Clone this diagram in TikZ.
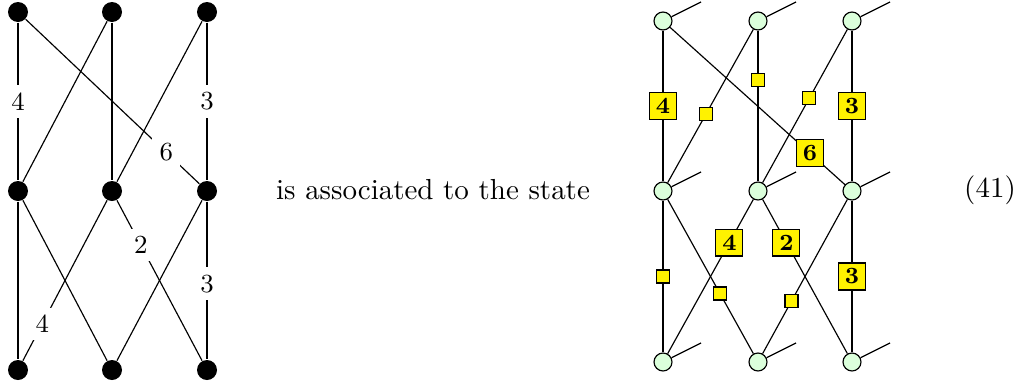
\documentclass[tikz,border=0pt]{standalone}
\begin{document}
\begin{tikzpicture}[x=0.345pt, y=-0.345pt,
		dot/.style = {circle, fill=black, inner sep=0pt, minimum size=6.9pt},
		site/.style = {circle, draw, fill=green!14, inner sep=0pt, minimum size=6.2pt},
		lbl/.style = {fill=white, font=\small, inner sep=2.5pt},
		tag/.style = {draw, fill=yellow, font=\footnotesize\bfseries, inner sep=0pt, minimum size=9.3pt},
		smalltag/.style = {draw, fill=yellow, inner sep=0pt, minimum size=4.5pt}
	]
	\useasboundingbox (0,0) rectangle (1024,385);
	% left graph
	\foreach \c/\x in {1/18, 2/112, 3/207}{
		\node[dot] (lt\c) at (\x,12) {};
		\node[dot] (lm\c) at (\x,191) {};
		\node[dot] (lb\c) at (\x,370) {};
	}
	\draw (lt1) -- node[lbl] {4} (lm1);
	\draw (lt1) -- node[lbl, pos=.81] {6} (lm3);
	\draw (lt2) -- (lm1);
	\draw (lt2) -- (lm2);
	\draw (lt3) -- (lm2);
	\draw (lt3) -- node[lbl] {3} (lm3);
	\draw (lm1) -- (lb1);
	\draw (lm1) -- (lb2);
	\draw (lm2) -- node[lbl, pos=.77] {4} (lb1);
	\draw (lm2) -- node[lbl, pos=.28] {2} (lb3);
	\draw (lm3) -- (lb2);
	\draw (lm3) -- node[lbl, pos=.52] {3} (lb3);
	% text
	\node (txt) at (433,190) {is associated to the state};
	\node (eqno) at (990,190) {(41)};
	% right graph
	\foreach \c/\x in {1/663, 2/758, 3/852}{
		\foreach \r/\y in {t/21, m/191, b/362}{
			\node[site] (r\r\c) at (\x,\y) {};
			\path (r\r\c.center) ++(38,-19) coordinate (r\r\c e);
			\draw (r\r\c) -- (r\r\c e);
		}
	}
	\draw (rt1) -- node[tag] {4} (rm1);
	\draw (rt1) -- node[tag, pos=.8] {6} (rm3);
	\draw (rt2) -- node[smalltag, pos=.55] {} (rm1);
	\draw (rt2) -- node[smalltag, pos=.33] {} (rm2);
	\draw (rt3) -- node[smalltag, pos=.45] {} (rm2);
	\draw (rt3) -- node[tag] {3} (rm3);
	\draw (rm1) -- node[smalltag] {} (rb1);
	\draw (rm1) -- node[smalltag, pos=.61] {} (rb2);
	\draw (rm2) -- node[tag, pos=.28] {4} (rb1);
	\draw (rm2) -- node[tag, pos=.28] {2} (rb3);
	\draw (rm3) -- node[smalltag, pos=.66] {} (rb2);
	\draw (rm3) -- node[tag] {3} (rb3);
\end{tikzpicture}
\end{document}
